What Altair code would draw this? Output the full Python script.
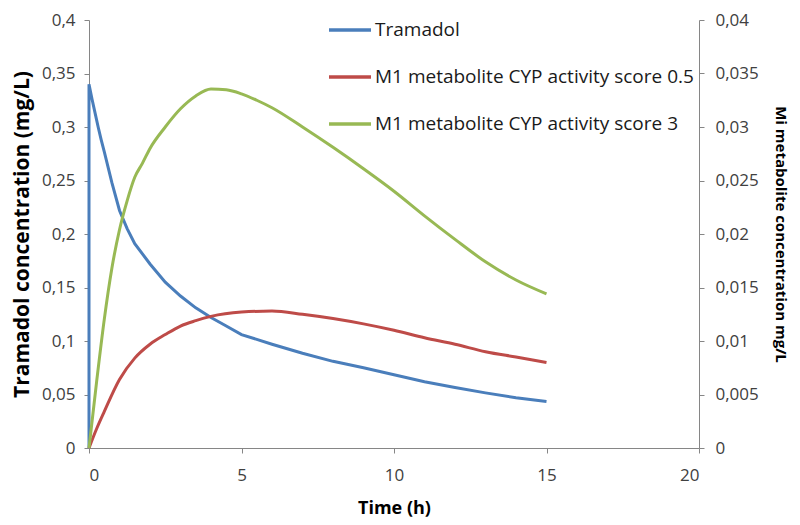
import altair as alt
import pandas as pd

# ---- data ----
series_names = ["Tramadol", "M1 metabolite CYP activity score 0.5", "M1 metabolite CYP activity score 3"]
series_colors = ["#4A7EBB", "#BE4B48", "#98B954"]

time_tramadol = [0, 0, 0.1, 0.2, 0.3, 0.4, 0.5, 0.75, 1, 1.25, 1.5, 2, 2.5, 3, 3.5, 4, 4.5, 5,
                 6, 7, 8, 9, 10, 11, 12, 13, 14, 15]
tramadol = [0, 0.34, 0.326, 0.313, 0.300, 0.288, 0.277, 0.248, 0.222, 0.205, 0.191, 0.172,
            0.155, 0.142, 0.131, 0.122, 0.114, 0.106, 0.097, 0.0885, 0.081, 0.075, 0.0685,
            0.062, 0.0565, 0.0515, 0.047, 0.0435]

time_m1_low = [0, 0.25, 0.5, 1, 1.5, 2, 2.5, 3, 3.5, 4, 5, 6, 7, 8, 9, 10, 11, 12, 13, 14, 15]
m1_low = [0, 0.0018, 0.0034, 0.0064, 0.0084, 0.0097, 0.0106, 0.0114, 0.0119, 0.0123, 0.0127,
          0.0128, 0.0125, 0.0121, 0.0116, 0.0110, 0.0103, 0.0097, 0.0090, 0.0085, 0.0080]

time_m1_high = [0, 0.25, 0.5, 0.75, 1, 1.25, 1.5, 1.75, 2, 2.5, 3, 3.5, 4, 4.5, 5, 5.5, 6, 7, 8,
                9, 10, 11, 12, 13, 14, 15]
m1_high = [0, 0.0062, 0.0120, 0.0168, 0.0204, 0.0231, 0.0253, 0.0266, 0.0280, 0.0300, 0.0317,
           0.0329, 0.03355, 0.03348, 0.0331, 0.0325, 0.0318, 0.0300, 0.0281, 0.0261, 0.0240,
           0.0217, 0.0195, 0.0174, 0.0157, 0.0144]

left_ticks = [0, 0.05, 0.1, 0.15, 0.2, 0.25, 0.3, 0.35, 0.4]
right_ticks = [0, 0.005, 0.01, 0.015, 0.02, 0.025, 0.03, 0.035, 0.04]
x_ticks = [0, 5, 10, 15, 20]

df_left = pd.DataFrame({
    "t": time_tramadol, "v": tramadol, "series": series_names[0],
    "order": list(range(len(time_tramadol))),
})
df_right = pd.concat([
    pd.DataFrame({"t": time_m1_low, "v": m1_low, "series": series_names[1],
                  "order": list(range(len(time_m1_low)))}),
    pd.DataFrame({"t": time_m1_high, "v": m1_high, "series": series_names[2],
                  "order": list(range(len(time_m1_high)))}),
])

FONT = "Open Sans"
comma_expr = "replace(format(datum.value, '~g'), '.', ',')"

color = alt.Color(
    "series:N",
    scale=alt.Scale(domain=series_names, range=series_colors),
    legend=alt.Legend(
        title=None, orient="none", legendX=238, legendY=-13,
        symbolType="stroke", symbolSize=1764, symbolStrokeWidth=3.5,
        labelFont=FONT, labelFontSize=19, labelColor="#1a1a1a",
        rowPadding=14, labelOffset=2, labelLimit=400,
    ),
)

x = alt.X(
    "t:Q",
    scale=alt.Scale(domain=[0, 20], nice=False),
    axis=alt.Axis(values=x_ticks, title="Time (h)", titleFontSize=18, titleFontWeight="bold",
                  titlePadding=16, labelPadding=14),
)

left = alt.Chart(df_left).mark_line(strokeWidth=3).encode(
    x=x,
    y=alt.Y("v:Q", scale=alt.Scale(domain=[0, 0.4], nice=False),
            axis=alt.Axis(values=left_ticks, labelExpr=comma_expr,
                          title="Tramadol concentration (mg/L)", titleFontSize=21,
                          titleFontWeight="bold", titlePadding=9, labelPadding=9)),
    color=color,
    order="order:Q",
)

right = alt.Chart(df_right).mark_line(strokeWidth=3, interpolate="monotone").encode(
    x=x,
    y=alt.Y("v:Q", scale=alt.Scale(domain=[0, 0.04], nice=False),
            axis=alt.Axis(orient="right", values=right_ticks, labelExpr=comma_expr,
                          title="Mi metabolite concentration mg/L", titleFontSize=15,
                          titleFontWeight="bold", titlePadding=14, labelPadding=11)),
    color=color,
    order="order:Q",
)

chart = alt.layer(left, right).resolve_scale(y="independent").properties(
    width=610, height=428,
    autosize=alt.AutoSizeParams(type="none"),
    padding={"left": 81, "top": 12, "right": 93, "bottom": 75},
).configure_view(stroke=None).configure_axis(
    grid=False, domainColor="#868686", tickColor="#868686", tickSize=5,
    labelFont=FONT, labelFontSize=17, labelColor="#404040",
    titleFont=FONT, titleColor="#000000",
)

chart.save("out.html", embed_options={"renderer": "svg", "actions": False})
